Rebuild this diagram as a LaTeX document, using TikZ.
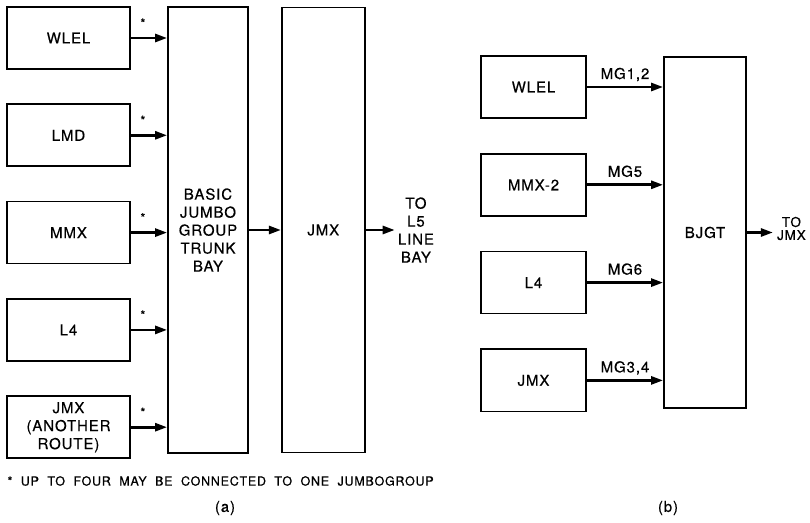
\documentclass[tikz,border=0pt]{standalone}
\usepackage{fontspec}
\setmainfont[LetterSpace=6, FakeBold=0.5]{TeX Gyre Heros}
\newfontfamily\fussfont[LetterSpace=6, WordSpace=2.0, FakeBold=0.5]{TeX Gyre Heros}
\usetikzlibrary{arrows.meta,positioning}
\tikzset{
  kasten/.style={draw, line width=1.8pt, minimum width=123pt, minimum height=62pt, inner sep=0pt, align=center},
  pfeil/.style={line width=2.6pt, -{Triangle[length=12pt, width=8pt]}},
}

\begin{document}
\begin{tikzpicture}[x=1pt, y=1pt, node distance=33.5pt, every node/.style={font=\fontsize{15}{18}\selectfont}]
    \useasboundingbox (0,0) rectangle (810,522);
    % (a)
    \node[kasten] (wlel) at (68.5,484) {WLEL};
    \node[kasten, below=of wlel] (lmd) {LMD};
    \node[kasten, below=of lmd] (mmx) {MMX};
    \node[kasten, below=of mmx] (lvier) {L4};
    \node[kasten, below=of lvier] (jmxa) {JMX\\(ANOTHER\\ROUTE)};
    \node[kasten, minimum width=80pt, minimum height=446pt] (basic) at (208,292) {BASIC\\JUMBO\\GROUP\\TRUNK\\BAY};
    \node[kasten, minimum width=83pt, minimum height=445pt, right=32pt of basic] (jmxgr) {JMX};
    \node[right=29pt of jmxgr, inner xsep=3pt, align=center] (lfuenf) {TO\\L5\\LINE\\BAY};
    \foreach \k in {wlel,lmd,mmx,lvier,jmxa}{
        \draw[pfeil] (\k) -- (\k -| basic.west);
        \node[font=\fontsize{12.5}{12}\selectfont] (stern-\k) at ([shift={(12,15)}]\k.east) {*};
    }
    \draw[pfeil] (basic) -- (jmxgr);
    \draw[pfeil] (jmxgr) -- (lfuenf);
    \node[anchor=west, font=\fussfont\fontsize{12.5}{14}\selectfont] (fussnote) at (4,41) {* UP TO FOUR MAY BE CONNECTED TO ONE JUMBOGROUP};
    \node (teila) at (225,14) {(a)};
    % (b)
    \node[kasten, minimum width=105pt] (wlelb) at (533.5,435) {WLEL};
    \node[kasten, minimum width=105pt, below=34pt of wlelb] (mmxb) {MMX-2};
    \node[kasten, minimum width=105pt, below=34pt of mmxb] (lvierb) {L4};
    \node[kasten, minimum width=105pt, below=34pt of lvierb] (jmxb) {JMX};
    \node[kasten, minimum width=82pt, minimum height=351pt] (bjgt) at (705,289.5) {BJGT};
    \node[right=26pt of bjgt, inner xsep=4pt, yshift=4pt, align=center, font=\fontsize{13.5}{13}\selectfont] (zujmx) {TO\\JMX};
    \foreach \k/\t in {wlelb/{MG1,2}, mmxb/MG5, lvierb/MG6, jmxb/{MG3,4}}{
        \draw[pfeil] (\k) -- (\k -| bjgt.west) node[midway, anchor=base, yshift=8pt] (mg-\k) {\t};
    }
    \draw[pfeil] (bjgt) -- (bjgt.east -| zujmx.west);
    \node (teilb) at (668,14) {(b)};
\end{tikzpicture}
\end{document}
